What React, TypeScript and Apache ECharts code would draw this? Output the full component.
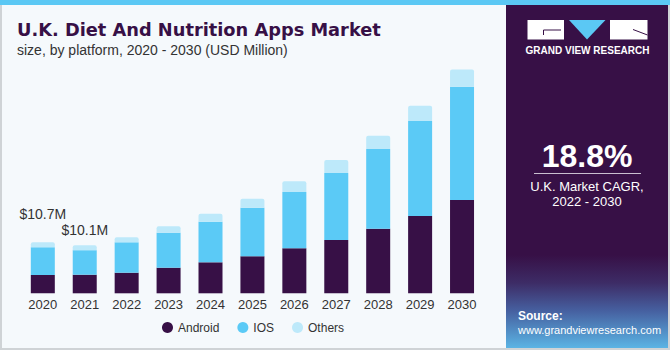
import React, { useEffect, useRef } from "react";
import * as echarts from "echarts";

const years = ["2020", "2021", "2022", "2023", "2024", "2025", "2026", "2027", "2028", "2029", "2030"];
const android = [3.84, 3.9, 4.32, 5.37, 6.5, 7.76, 9.44, 11.18, 13.55, 16.22, 19.57];
const ios = [5.81, 5.15, 6.38, 7.34, 8.52, 10.2, 11.81, 14.06, 16.72, 19.93, 23.77];
const others = [1.05, 1.05, 1.05, 1.34, 1.68, 1.89, 2.24, 2.73, 2.79, 3.21, 3.65];
const annotations = ["$10.7M", "$10.1M"];
const annotationDistance = [21, 8];

const seriesNames = ["Android", "IOS", "Others"];
const colors = ["#371046", "#5bcaf6", "#bde9fa"];

export default function App() {
  const ref = useRef<HTMLDivElement>(null);
  useEffect(() => {
    if (!ref.current) return;
    const chart = echarts.init(ref.current, null, { renderer: "svg" });
    const othersData = others.map((v, i) =>
      i < annotations.length
        ? {
            value: v,
            label: {
              show: true,
              position: "top",
              distance: annotationDistance[i],
              formatter: annotations[i],
              color: "#333333",
              fontSize: 14,
              fontFamily: "Liberation Sans",
            },
          }
        : v
    );
    const font = "Liberation Sans";
    chart.setOption({
      animation: false,
      backgroundColor: "#f5f9fc",
      textStyle: { fontFamily: font },
      grid: { left: 21.85, right: 187, top: 59.8, bottom: 56.7, containLabel: false },
      xAxis: {
        type: "category",
        data: years,
        axisLine: { show: false },
        axisTick: { show: false },
        axisLabel: { color: "#333333", fontSize: 13, margin: 5, fontFamily: font },
      },
      yAxis: { type: "value", min: 0, max: 49, show: false, splitLine: { show: false } },
      legend: {
        data: seriesNames,
        bottom: 11.5,
        left: 157,
        icon: "circle",
        itemWidth: 11,
        itemHeight: 11,
        itemGap: 18,
        textStyle: { color: "#333333", fontSize: 12, fontFamily: font },
      },
      series: [
        {
          name: seriesNames[0],
          type: "bar",
          stack: "total",
          barWidth: 24,
          data: android,
          itemStyle: { color: colors[0] },
        },
        {
          name: seriesNames[1],
          type: "bar",
          stack: "total",
          barWidth: 24,
          data: ios,
          itemStyle: { color: colors[1] },
        },
        {
          name: seriesNames[2],
          type: "bar",
          stack: "total",
          barWidth: 24,
          data: othersData,
          itemStyle: { color: colors[2], borderRadius: [2, 2, 0, 0] },
        },
      ],
      graphic: [
        { type: "rect", shape: { x: 1, y: 1, width: 668, height: 348 }, style: { fill: "none", stroke: "#cfd3d6", lineWidth: 2 }, z: 100 },
        { type: "rect", shape: { x: 0, y: 0, width: 670, height: 5 }, style: { fill: "#5bc8f4" }, z: 101 },
        { type: "rect", shape: { x: 506, y: 5, width: 162, height: 343 }, style: { fill: "#371046" }, z: 50 },
        {
          type: "rect",
          shape: { x: 506, y: 255, width: 162, height: 93 },
          style: {
            fill: new echarts.graphic.LinearGradient(0, 0, 0, 1, [
              { offset: 0, color: "#371046" },
              { offset: 0.3, color: "#3d2c66" },
              { offset: 0.6, color: "#4660a0" },
              { offset: 1, color: "#5bb4e4" },
            ]),
          },
          z: 51,
        },
        // logo
        { type: "rect", shape: { x: 527.5, y: 20, width: 36.5, height: 19.5 }, style: { fill: "#ffffff" }, z: 60 },
        { type: "polygon", shape: { points: [[569, 20], [605.5, 20], [587, 39.5]] }, style: { fill: "#5bc8f4" }, z: 60 },
        { type: "rect", shape: { x: 610, y: 20, width: 37.5, height: 19.5 }, style: { fill: "#ffffff" }, z: 60 },
        { type: "polyline", shape: { points: [[561, 30], [543.5, 30], [543.5, 35]] }, style: { stroke: "#371046", lineWidth: 1, fill: "none" }, z: 61 },
        { type: "line", shape: { x1: 633, y1: 29.5, x2: 647.5, y2: 35 }, style: { stroke: "#371046", lineWidth: 1 }, z: 61 },
        {
          type: "text",
          x: 587.5,
          y: 50.7,
          style: { text: "GRAND VIEW RESEARCH", fill: "#ffffff", font: "bold 10px Liberation Sans", align: "center", verticalAlign: "middle" },
          z: 60,
        },
        {
          type: "text",
          x: 587,
          y: 156,
          style: { text: "18.8%", fill: "#ffffff", font: "bold 32px Liberation Sans", align: "center", verticalAlign: "middle" },
          z: 60,
        },
        { type: "line", shape: { x1: 534, y1: 173.5, x2: 641, y2: 173.5 }, style: { stroke: "#c9bfd0", lineWidth: 1 }, z: 60 },
        {
          type: "text",
          x: 587,
          y: 186,
          style: { text: "U.K. Market CAGR,", fill: "#ffffff", font: "13px Liberation Sans", align: "center", verticalAlign: "middle" },
          z: 60,
        },
        {
          type: "text",
          x: 587,
          y: 201,
          style: { text: "2022 - 2030", fill: "#ffffff", font: "13px Liberation Sans", align: "center", verticalAlign: "middle" },
          z: 60,
        },
        {
          type: "text",
          x: 518,
          y: 316,
          style: { text: "Source:", fill: "#ffffff", font: "bold 12px Liberation Sans", align: "left", verticalAlign: "middle" },
          z: 60,
        },
        {
          type: "text",
          x: 518,
          y: 330,
          style: { text: "www.grandviewresearch.com", fill: "#ffffff", font: "11px Liberation Sans", align: "left", verticalAlign: "middle" },
          z: 60,
        },
        // titles
        {
          type: "text",
          x: 17,
          y: 29,
          style: { text: "U.K. Diet And Nutrition Apps Market", fill: "#371046", font: "bold 17.8px DejaVu Sans", align: "left", verticalAlign: "middle" },
          z: 60,
        },
        {
          type: "text",
          x: 17,
          y: 50,
          style: { text: "size, by platform, 2020 - 2030 (USD Million)", fill: "#333333", font: "14px Liberation Sans", align: "left", verticalAlign: "middle" },
          z: 60,
        },
      ],
    });
    return () => chart.dispose();
  }, []);
  return <div ref={ref} style={{ position: "fixed", left: 0, top: 0, width: 670, height: 350 }} />;
}
